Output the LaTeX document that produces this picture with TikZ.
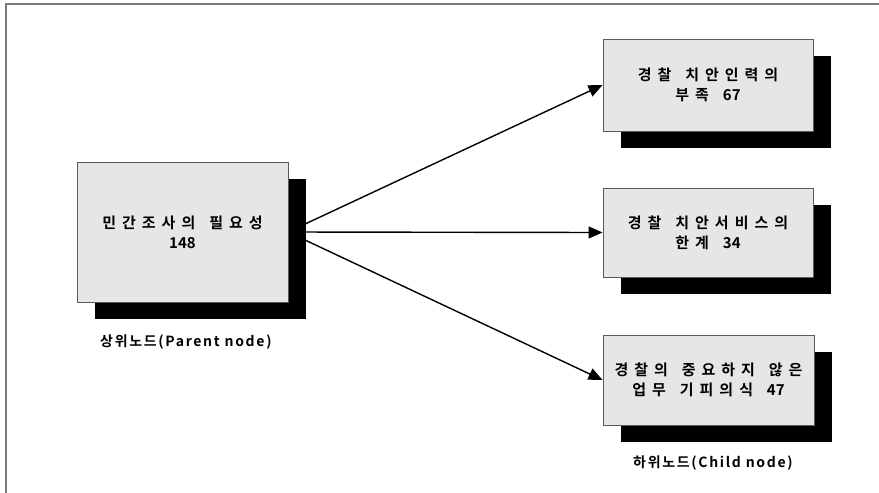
\documentclass[tikz,border=0pt]{standalone}
\usepackage{fontspec}
\setmainfont{Noto Sans CJK KR}[BoldFont={Noto Sans CJK KR Bold}]
\newfontfamily\kr[LetterSpace=40,BoldFont={Noto Sans CJK KR Bold}]{Noto Sans CJK KR}
\newfontfamily\krl[LetterSpace=12,BoldFont={Noto Sans CJK KR Bold}]{Noto Sans CJK KR}
\newfontfamily\krd[BoldFont={Noto Sans CJK KR Bold}]{Noto Sans CJK KR}
\newcommand{\num}[1]{{\krd\bfseries #1}}
\newcommand{\ws}{\hspace{4.5pt} }
\usetikzlibrary{arrows.meta,shadows}
\definecolor{boxfill}{HTML}{E6E6E6}
\definecolor{boxline}{HTML}{5A5A5A}
\definecolor{frameline}{HTML}{7A7A7A}
\tikzset{
  x=1pt, y=-1pt,
  boxnode/.style={draw=boxline, line width=0.9pt, fill=boxfill, align=center,
    font=\kr\bfseries\fontsize{15}{20}\selectfont,
    general shadow={fill=black, shadow xshift=18pt, shadow yshift=-17pt}},
  lbl/.style={font=\krl\bfseries\fontsize{14}{16}\selectfont, inner sep=0pt, anchor=west},
  conn/.style={line width=1.4pt, -{Triangle[length=14pt,width=12pt]}}
}
\begin{document}
\begin{tikzpicture}
\useasboundingbox (0,0) rectangle (879,493);
\draw[frameline, line width=1.8pt] (6,493) -- (6,4) -- (879,4);
\path (182.5,232) coordinate (pc) (288,232) coordinate (pe);
\node[boxnode, minimum width=210pt, minimum height=92pt] (c1) at (708,85) {경찰\ws 치안인력의\\부족\ws\num{67}};
\node[boxnode, minimum width=210pt, minimum height=89pt] (c2) at (708,232.5) {경찰\ws 치안서비스의\\한계\ws\num{34}};
\node[boxnode, minimum width=211pt, minimum height=90pt] (c3) at (708.5,380) {경찰의\ws 중요하지\ws 않은\\업무\ws 기피의식\ws\num{47}};
\draw[conn] (pe) -- (c1.west);
\draw[conn] (pe) -- (c2.west);
\draw[conn] (pe) -- (c3.west);
\node[boxnode, minimum width=211pt, minimum height=140pt] (p) at (pc) {민간조사의\ws 필요성\\\num{148}};
\node[lbl] (pl) at (100,342) {상위노드(Parent node)};
\node[lbl] (cl) at (633,463) {하위노드(Child node)};
\end{tikzpicture}
\end{document}
